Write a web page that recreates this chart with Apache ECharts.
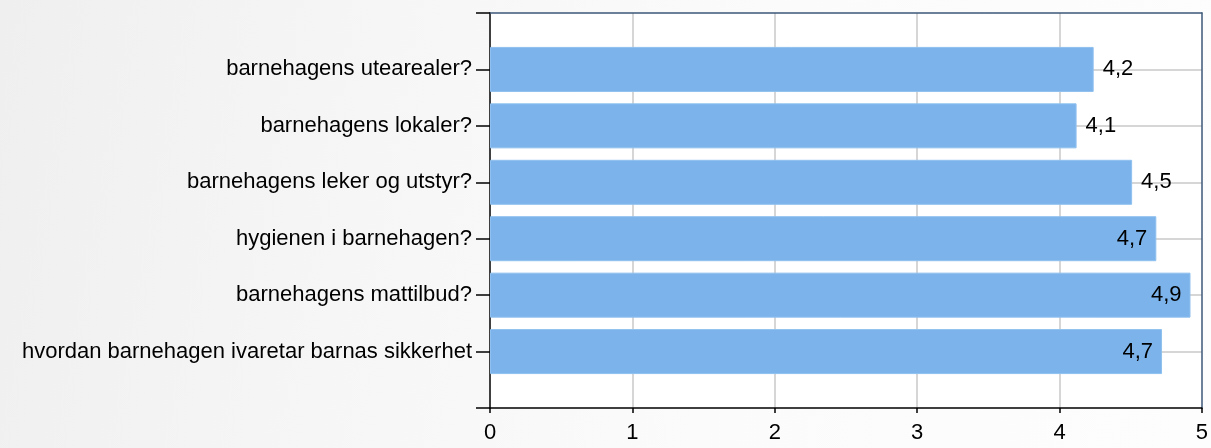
<!DOCTYPE html>
<html><head><meta charset="utf-8">
<script src="https://cdn.jsdelivr.net/npm/echarts@6/dist/echarts.min.js"></script>
<style>
html,body{margin:0;padding:0;}
body{background:linear-gradient(100deg,#efefef 0%,#f6f6f6 30%,#fbfbfb 60%,#fdfdfd 100%);}
#c{width:1211px;height:448px;}
</style></head><body>
<div id="c"></div>
<script>
const categories = ['', 'barnehagens utearealer?', 'barnehagens lokaler?', 'barnehagens leker og utstyr?', 'hygienen i barnehagen?', 'barnehagens mattilbud?', 'hvordan barnehagen ivaretar barnas sikkerhet', ''];
const values = [null, 4.24, 4.12, 4.51, 4.68, 4.92, 4.72, null];
const labelInside = [false, false, false, false, true, true, true, false];
const xTicks = [0, 1, 2, 3, 4, 5];

const chart = echarts.init(document.getElementById('c'), null, {renderer: 'canvas'});
const font = 'Liberation Sans, Arial, sans-serif';
const fs = 22;
const grey = '#c8c8c8', none = 'rgba(0,0,0,0)';
chart.setOption({
  animation: false,
  grid: {left: 490, right: 9, top: 13, bottom: 40, show: true, backgroundColor: '#ffffff', borderWidth: 0},
  xAxis: [{
    type: 'value', min: xTicks[0], max: xTicks[xTicks.length - 1], interval: 1,
    axisLine: {show: true, onZero: false, lineStyle: {color: '#000', width: 1.5}},
    axisTick: {show: true, length: 5, lineStyle: {color: '#000', width: 1.5}},
    axisLabel: {color: '#000', fontSize: fs, fontFamily: font, margin: 14},
    splitLine: {show: true, lineStyle: {color: xTicks.map((t, i) => (i === 0 || i === xTicks.length - 1) ? none : grey), width: 1.5}}
  }, {
    type: 'value', position: 'top', min: 0, max: 1,
    axisLine: {show: true, onZero: false, lineStyle: {color: '#3d5878', width: 1.5}},
    axisTick: {show: false}, axisLabel: {show: false}, splitLine: {show: false}
  }],
  yAxis: [{
    type: 'category', data: categories, inverse: true, boundaryGap: false,
    axisLine: {show: true, onZero: false, lineStyle: {color: '#000', width: 1.5}},
    axisTick: {show: true, length: 14, interval: 0, lineStyle: {color: '#000', width: 1.5}},
    axisLabel: {color: '#000', fontSize: fs, fontFamily: font, margin: 18, interval: 0},
    splitLine: {show: true, interval: 0, lineStyle: {color: categories.map((c, i) => (i === 0 || i === categories.length - 1) ? none : grey), width: 1.5}}
  }, {
    type: 'value', position: 'right', min: 0, max: 1,
    axisLine: {show: true, onZero: false, lineStyle: {color: '#3d5878', width: 1.5}},
    axisTick: {show: false}, axisLabel: {show: false}, splitLine: {show: false}
  }],
  series: [{
    type: 'bar', barWidth: 45, xAxisIndex: 0, yAxisIndex: 0,
    data: values.map((v, i) => ({
      value: v,
      label: labelInside[i] ? {position: 'insideRight', distance: 9} : {position: 'right', distance: 9}
    })),
    itemStyle: {color: '#7bb3ea', borderColor: '#8fc0ef', borderWidth: 1},
    label: {show: true, color: '#000', fontSize: fs, fontFamily: font,
      formatter: p => p.value == null ? '' : p.value.toFixed(1).replace('.', ',')}
  }]
});
</script>
</body></html>
